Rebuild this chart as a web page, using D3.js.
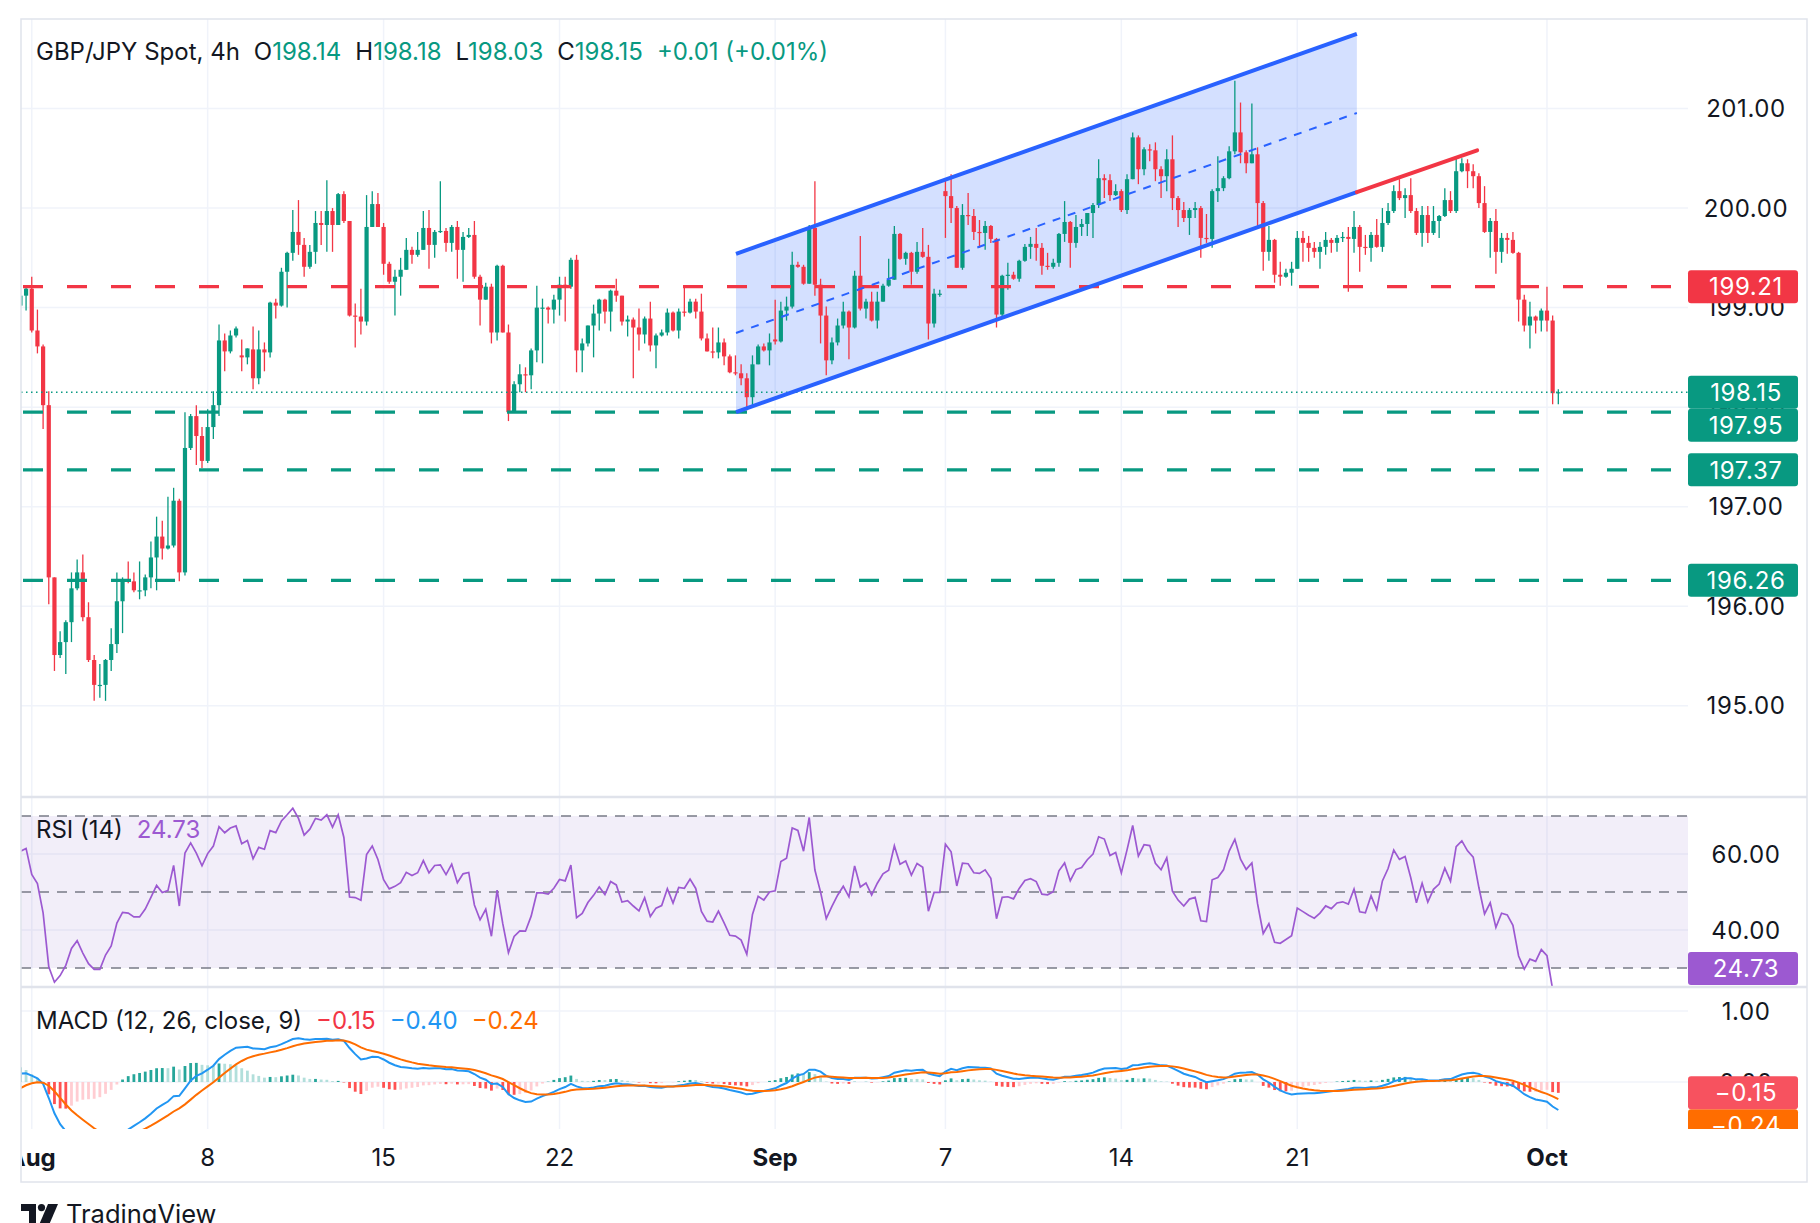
<!DOCTYPE html>
<html><head><meta charset="utf-8">
<script src="https://cdn.jsdelivr.net/npm/d3@7"></script>
<style>
html,body{margin:0;padding:0;background:#fff;}
svg{display:block;font-family:Inter,"Noto Sans",sans-serif;}
</style></head><body>
<svg id="chart" width="1820" height="1223"></svg>
<script>
// ---------- DATA (4h GBP/JPY candles, Jul 31 16:00 .. Oct 1 08:00) ----------
const opens = [199.02,199.12,199.19,198.77,198.61,198.02,196.29,195.51,195.64,195.84,
196.18,196.34,195.89,195.46,195.21,195.21,195.46,195.62,196.05,196.27,
196.25,196.16,196.16,196.29,196.49,196.70,196.58,196.61,197.06,196.34,
197.59,197.91,197.71,197.46,197.80,198.02,198.67,198.56,198.72,198.52,
198.50,198.58,198.29,198.58,198.55,199.05,199.02,199.36,199.55,199.76,
199.63,199.41,199.56,199.85,199.83,199.97,199.83,200.14,199.87,198.92,
198.91,198.86,199.81,200.04,199.81,199.44,199.26,199.31,199.38,199.58,
199.53,199.58,199.80,199.63,199.76,199.77,199.65,199.81,199.58,199.71,
199.73,199.31,199.08,199.21,198.75,199.42,198.75,197.95,198.23,198.33,
198.32,198.57,199.00,199.00,198.98,199.08,199.23,199.21,199.48,198.57,
198.64,198.82,198.94,199.08,198.96,199.17,199.12,198.86,198.88,198.80,
198.73,198.89,198.62,198.72,198.75,198.95,198.77,198.96,198.95,199.06,
198.96,198.69,198.56,198.55,198.65,198.51,198.35,198.34,198.29,198.10,
198.43,198.61,198.57,198.68,198.66,198.97,199.01,199.43,199.41,199.24,
199.80,199.23,198.92,198.47,198.65,198.82,198.96,198.80,199.32,198.99,
199.06,198.87,199.06,199.22,199.28,199.74,199.49,199.55,199.36,199.56,
199.51,198.84,199.14,200.17,200.12,200.00,199.40,199.93,199.92,199.76,
199.75,199.82,199.69,198.93,199.32,199.33,199.29,199.47,199.61,199.64,
199.60,199.42,199.41,199.45,199.74,199.86,199.65,199.81,199.84,199.95,
200.03,200.30,200.28,200.13,200.17,199.98,200.29,200.71,200.39,200.59,
200.58,200.39,200.32,200.49,200.10,199.98,199.90,199.98,200.00,199.70,
199.69,200.17,200.20,200.30,200.57,200.76,200.56,200.45,200.54,200.05,
199.56,199.68,199.33,199.31,199.35,199.39,199.70,199.65,199.60,199.56,
199.61,199.68,199.65,199.70,199.71,199.69,199.81,199.61,199.60,199.73,
199.61,199.85,199.97,200.17,200.10,200.13,199.97,199.75,199.93,199.75,
199.87,199.92,200.08,199.97,200.37,200.45,200.37,200.32,200.05,199.76,
199.87,199.56,199.70,199.68,199.55,199.08,198.82,198.91,198.87,198.97,
198.87,198.14];
const highs = [199.51,199.21,199.31,198.98,198.63,198.16,196.29,195.75,195.86,196.34,
196.47,196.52,196.04,195.51,195.42,195.47,195.78,196.34,196.29,196.45,
196.34,196.45,196.32,196.65,196.90,196.86,197.10,197.19,197.08,197.95,
197.93,198.02,197.80,197.98,198.16,198.83,198.74,198.77,198.81,198.68,
198.59,198.81,198.77,198.65,199.06,199.09,199.40,199.56,199.98,200.08,
199.70,199.63,199.97,199.97,200.28,200.00,200.15,200.17,199.87,199.04,
199.19,200.13,200.17,200.15,199.85,199.46,199.38,199.50,199.70,199.61,
199.76,199.97,199.98,199.78,200.27,199.80,199.83,199.87,199.76,199.80,
199.87,199.33,199.25,199.24,199.43,199.43,198.83,198.26,198.43,198.40,
198.59,199.22,199.09,199.01,199.13,199.31,199.31,199.50,199.53,198.69,
198.82,199.03,199.09,199.09,199.18,199.29,199.12,198.92,198.90,198.99,
198.91,199.06,198.74,198.78,198.99,198.96,198.99,199.21,199.09,199.09,
199.14,198.74,198.80,198.80,198.69,198.53,198.52,198.43,198.34,198.52,
198.63,198.64,198.74,199.08,199.06,199.11,199.56,199.46,199.43,199.83,
200.27,199.29,199.01,198.70,198.89,199.06,198.97,199.37,199.72,199.09,
199.16,199.16,199.24,199.49,199.82,199.75,199.56,199.56,199.66,199.80,
199.63,199.19,199.18,200.29,200.34,200.02,200.04,200.15,199.99,199.88,
199.87,199.83,199.70,199.33,199.45,199.36,199.48,199.64,199.71,199.80,
199.65,199.55,199.49,199.75,200.07,199.87,199.93,199.89,199.95,200.05,
200.49,200.34,200.34,200.24,200.19,200.34,200.76,200.73,200.61,200.64,
200.66,200.42,200.59,200.73,200.12,200.06,200.00,200.06,200.02,199.94,
200.19,200.52,200.32,200.62,201.28,201.06,200.58,201.05,200.61,200.07,
199.82,199.69,199.46,199.39,199.46,199.77,199.77,199.72,199.66,199.66,
199.76,199.70,199.73,199.76,199.81,199.97,199.83,199.73,199.76,199.89,
200.00,200.05,200.23,200.29,200.20,200.30,200.00,200.02,200.02,200.02,
199.93,200.20,200.17,200.50,200.50,200.49,200.44,200.35,200.22,199.90,
199.99,199.75,199.75,199.76,199.56,199.13,199.06,198.92,198.99,199.21,
198.92,198.18];
const lows = [198.85,198.97,198.75,198.54,197.78,196.02,195.35,195.48,195.32,195.64,
196.16,195.85,195.44,195.05,195.08,195.05,195.35,195.53,195.73,196.23,
196.14,196.07,196.10,196.18,196.16,196.47,196.57,196.59,196.25,196.31,
197.57,197.42,197.39,197.44,197.68,197.91,198.36,198.54,198.70,198.36,
198.43,198.18,198.23,198.36,198.50,198.89,199.01,199.00,199.47,199.53,
199.31,199.39,199.44,199.63,199.56,199.56,199.83,199.85,198.91,198.60,
198.73,198.82,199.81,199.81,199.33,199.24,198.92,199.12,199.38,199.44,
199.51,199.58,199.39,199.50,199.75,199.56,199.56,199.29,199.26,199.70,
199.29,198.82,199.08,198.64,198.67,198.75,197.86,197.95,198.15,198.15,
198.18,198.45,198.44,198.84,198.84,198.92,198.86,199.19,198.35,198.35,
198.61,198.50,198.77,198.84,198.76,199.06,198.82,198.71,198.29,198.57,
198.64,198.56,198.39,198.71,198.72,198.76,198.69,198.91,198.94,198.89,
198.67,198.56,198.49,198.49,198.42,198.34,198.32,198.22,197.97,198.00,
198.43,198.56,198.42,198.63,198.65,198.87,198.99,199.40,199.23,199.24,
199.12,198.64,198.32,198.43,198.62,198.79,198.48,198.79,198.97,198.89,
198.86,198.79,199.06,199.21,199.28,199.48,199.43,199.23,199.34,199.50,
198.68,198.80,199.11,199.70,199.85,199.40,199.38,199.83,199.68,199.60,
199.58,199.65,198.80,198.91,199.18,199.28,199.26,199.46,199.49,199.47,
199.33,199.38,199.39,199.41,199.66,199.40,199.60,199.72,199.72,199.70,
200.00,200.10,200.07,200.12,199.96,199.94,200.29,200.24,200.33,200.47,
200.27,200.10,200.17,199.98,199.81,199.86,199.73,199.90,199.50,199.65,
199.60,200.06,200.17,200.29,200.54,200.45,200.35,200.45,199.82,199.37,
199.47,199.25,199.22,199.30,199.22,199.39,199.46,199.46,199.50,199.39,
199.53,199.55,199.56,199.66,199.16,199.55,199.36,199.53,199.46,199.60,
199.56,199.83,199.95,200.08,199.90,199.95,199.73,199.61,199.65,199.73,
199.70,199.91,199.95,199.95,200.36,200.20,200.20,200.00,199.75,199.50,
199.34,199.45,199.54,199.54,198.86,198.76,198.59,198.74,198.76,198.76,
198.03,198.03];
const closes = [199.12,199.19,198.77,198.61,198.02,196.29,195.51,195.64,195.84,196.18,
196.34,195.89,195.46,195.21,195.21,195.46,195.62,196.05,196.27,196.25,
196.16,196.16,196.29,196.49,196.70,196.58,196.61,197.06,196.34,197.59,
197.91,197.71,197.46,197.80,198.02,198.67,198.56,198.72,198.79,198.50,
198.59,198.29,198.58,198.55,199.05,199.02,199.36,199.55,199.76,199.63,
199.41,199.56,199.85,199.83,199.97,199.83,200.14,199.87,198.92,198.91,
198.86,199.81,200.04,199.81,199.44,199.26,199.31,199.38,199.58,199.53,
199.58,199.80,199.63,199.76,199.77,199.65,199.81,199.58,199.71,199.73,
199.31,199.08,199.21,198.75,199.42,198.75,197.95,198.23,198.33,198.32,
198.57,199.00,199.00,198.98,199.08,199.23,199.21,199.48,198.57,198.64,
198.82,198.94,199.08,198.96,199.17,199.12,198.86,198.88,198.80,198.73,
198.89,198.62,198.72,198.75,198.95,198.77,198.96,198.95,199.06,198.96,
198.69,198.56,198.55,198.65,198.51,198.35,198.34,198.29,198.10,198.43,
198.61,198.57,198.65,198.66,198.97,199.01,199.43,199.41,199.24,199.80,
199.23,198.92,198.47,198.65,198.82,198.96,198.80,199.32,198.99,199.06,
198.87,199.06,199.22,199.28,199.74,199.49,199.55,199.36,199.56,199.51,
198.84,199.14,199.14,200.12,200.00,199.40,199.93,199.92,199.76,199.75,
199.82,199.69,198.93,199.32,199.33,199.29,199.47,199.61,199.64,199.60,
199.42,199.41,199.45,199.74,199.86,199.65,199.81,199.84,199.95,200.03,
200.30,200.28,200.13,200.17,199.98,200.29,200.71,200.39,200.59,200.58,
200.39,200.32,200.49,200.10,199.98,199.90,199.98,200.00,199.70,199.69,
200.17,200.20,200.30,200.57,200.76,200.56,200.45,200.54,200.05,199.56,
199.68,199.33,199.31,199.35,199.39,199.70,199.65,199.60,199.56,199.61,
199.68,199.65,199.70,199.71,199.69,199.81,199.61,199.60,199.73,199.61,
199.85,199.97,200.17,200.10,200.13,199.97,199.75,199.93,199.75,199.87,
199.92,200.08,199.97,200.37,200.45,200.37,200.32,200.05,199.76,199.87,
199.56,199.70,199.68,199.55,199.08,198.82,198.91,198.87,198.97,198.87,
198.14,198.15];

// time-axis labels (bar index of each labelled date)
const dateTickIndex = [2, 33, 64, 95, 133, 163, 194, 225, 269];
const dateTickLabel = ["Aug", "8", "15", "22", "Sep", "7", "14", "21", "Oct"];
const dateTickBold  = [true, false, false, false, true, false, false, false, true];

const priceTicks = [195, 196, 197, 198, 199, 200, 201];
const priceTickLabels = ["195.00","196.00","197.00","198.00","199.00","200.00","201.00"];

// horizontal support / resistance levels
const levelValues = [199.21, 197.95, 197.37, 196.26];
const levelKinds  = ["res", "sup", "sup", "sup"];
const lastPrice = 198.15;

// rising channel (bar index, price) and the red trend line
const channelIdx   = [126.1, 235.5];
const channelLower = [197.95, 200.16];
const channelUpper = [199.54, 201.75];
const wedgeIdx   = [235.5, 256.7];
const wedgePrice = [200.16, 200.58];

const rsiPeriod = 14;
const rsiSeedGain = 0.17, rsiSeedLoss = 0.115;
const macdFast = 12, macdSlow = 26, macdSig = 9;
const macdSeedFast = 199.02, macdSeedSlow = 198.90, macdSeedSignal = -0.14;
const rsiTicks = [60, 40], rsiTickLabels = ["60.00", "40.00"];
const rsiBands = [70, 50, 30];
const macdTicks = [1, 0], macdTickLabels = ["1.00", "0.00"];

// legend texts
const header = {sym: "GBP/JPY Spot, 4h", o: "198.14", h: "198.18", l: "198.03", c: "198.15", chg: "+0.01 (+0.01%)"};
const rsiLegendValue = "24.73", rsiValue = 24.73;
const macdLegend = ["\u22120.15", "\u22120.40", "\u22120.24"];
const macdValues = [-0.15, -0.40, -0.24];

// ---------- LAYOUT ----------
const N = closes.length;
const L = 21, PR = 1688, AR = 1807, T = 19, PB = 797, RB = 987, MB = 1129, XB = 1182;
const UP = "#089981", DN = "#F23645", BLUE = "#2962FF", TXT = "#131722";
const GRID = "#F0F3FA", BORDER = "#E0E3EB";
const RSI_C = "#9C59D1", MACD_C = "#2196F3", SIG_C = "#FF6D00";
const FS = 24;

const x  = d3.scaleLinear().domain([0, 1]).range([20.4, 26.075]);
const yP = d3.scaleLinear().domain([195, 201]).range([705.8, 108.5]);
const yR = d3.scaleLinear().domain([30, 70]).range([968, 816]);
const yM = d3.scaleLinear().domain([0, 1]).range([1082, 1011]);

const svg = d3.select("#chart");
svg.append("rect").attr("width", 1820).attr("height", 1223).attr("fill", "#fff");
const defs = svg.append("defs");
function clip(id, x0, y0, w, h) {
  defs.append("clipPath").attr("id", id).append("rect").attr("x", x0).attr("y", y0).attr("width", w).attr("height", h);
  return "url(#" + id + ")";
}
const cPrice = clip("cp", L, T, PR - L, PB - T);
const cRsi = clip("cr", L, PB, PR - L, RB - PB);
const cMacd = clip("cm", L, RB, PR - L, MB - RB);
const cMacdAx = clip("cma", PR, RB, AR - PR, MB - RB);
const cX = clip("cx", L + 1, MB, AR - L, XB - MB);

// ---------- GRID ----------
const grid = svg.append("g");
grid.selectAll("line.hp").data(priceTicks).join("line")
  .attr("x1", L).attr("x2", PR).attr("y1", d => yP(d)).attr("y2", d => yP(d))
  .attr("stroke", GRID).attr("stroke-width", 1.5);
grid.selectAll("line.vt").data(dateTickIndex).join("line")
  .attr("x1", d => x(d)).attr("x2", d => x(d)).attr("y1", T).attr("y2", MB)
  .attr("stroke", GRID).attr("stroke-width", 1.5);
grid.selectAll("line.rt").data(rsiTicks).join("line")
  .attr("x1", L).attr("x2", PR).attr("y1", d => yR(d)).attr("y2", d => yR(d))
  .attr("stroke", GRID).attr("stroke-width", 1.5);
grid.selectAll("line.mt").data(macdTicks).join("line")
  .attr("x1", L).attr("x2", PR).attr("y1", d => yM(d)).attr("y2", d => yM(d))
  .attr("stroke", GRID).attr("stroke-width", 1.5);

// ---------- PRICE PANE ----------
const gp = svg.append("g").attr("clip-path", cPrice);
const chanPoly = [[channelIdx[0], channelLower[0]], [channelIdx[1], channelLower[1]],
                  [channelIdx[1], channelUpper[1]], [channelIdx[0], channelUpper[0]]];
gp.append("path")
  .attr("d", "M" + chanPoly.map(p => x(p[0]) + "," + yP(p[1])).join("L") + "Z")
  .attr("fill", "rgba(41,98,255,0.2)");

const isUp = i => closes[i] >= opens[i];
const cg = gp.append("g");
cg.selectAll("line").data(d3.range(N)).join("line")
  .attr("x1", i => x(i)).attr("x2", i => x(i))
  .attr("y1", i => yP(highs[i])).attr("y2", i => yP(lows[i]))
  .attr("stroke", i => isUp(i) ? UP : DN).attr("stroke-width", 1.3);
cg.selectAll("rect").data(d3.range(N)).join("rect")
  .attr("x", i => x(i) - 2.1).attr("width", 4.2)
  .attr("y", i => yP(Math.max(opens[i], closes[i])))
  .attr("height", i => Math.max(1.2, Math.abs(yP(opens[i]) - yP(closes[i]))))
  .attr("fill", i => isUp(i) ? UP : DN);

// current price dotted line
gp.append("line").attr("x1", L).attr("x2", PR).attr("y1", yP(lastPrice)).attr("y2", yP(lastPrice))
  .attr("stroke", UP).attr("stroke-width", 1.5).attr("stroke-dasharray", "1.5,3.5");

// level lines
gp.selectAll("line.lv").data(levelValues).join("line")
  .attr("x1", L).attr("x2", PR).attr("y1", d => yP(d)).attr("y2", d => yP(d))
  .attr("stroke", (d, k) => levelKinds[k] === "res" ? DN : UP)
  .attr("stroke-width", 3.2).attr("stroke-dasharray", "20,24").attr("stroke-dashoffset", -2);

// channel lines
const lineP = d3.line().x(d => x(d[0])).y(d => yP(d[1]));
gp.append("path").attr("d", lineP([[channelIdx[0], channelLower[0]], [channelIdx[1], channelLower[1]]]))
  .attr("stroke", BLUE).attr("stroke-width", 4).attr("fill", "none");
gp.append("path").attr("d", lineP([[channelIdx[0], channelUpper[0]], [channelIdx[1], channelUpper[1]]]))
  .attr("stroke", BLUE).attr("stroke-width", 4).attr("fill", "none");
gp.append("path").attr("d", lineP([[channelIdx[0], (channelLower[0] + channelUpper[0]) / 2], [channelIdx[1], (channelLower[1] + channelUpper[1]) / 2]]))
  .attr("stroke", BLUE).attr("stroke-width", 2).attr("stroke-dasharray", "8,8").attr("fill", "none");
gp.append("path").attr("d", lineP([[wedgeIdx[0], wedgePrice[0]], [wedgeIdx[1], wedgePrice[1]]]))
  .attr("stroke", DN).attr("stroke-width", 4).attr("fill", "none").attr("stroke-linecap", "round");

// ---------- INDICATORS (derived from closes) ----------
const rsi = [];
let ag = rsiSeedGain, al = rsiSeedLoss;
for (let i = 0; i < N; i++) {
  const prev = i === 0 ? opens[0] : closes[i - 1];
  const ch = closes[i] - prev;
  ag = (ag * (rsiPeriod - 1) + Math.max(ch, 0)) / rsiPeriod;
  al = (al * (rsiPeriod - 1) + Math.max(-ch, 0)) / rsiPeriod;
  rsi.push(100 - 100 / (1 + ag / al));
}
const macd = [], sig = [], hist = [];
let ef = macdSeedFast, es = macdSeedSlow, sg = macdSeedSignal;
for (let i = 0; i < N; i++) {
  ef += (closes[i] - ef) * 2 / (macdFast + 1);
  es += (closes[i] - es) * 2 / (macdSlow + 1);
  const m = ef - es;
  sg += (m - sg) * 2 / (macdSig + 1);
  macd.push(m); sig.push(sg); hist.push(m - sg);
}

// ---------- RSI PANE ----------
const gr = svg.append("g").attr("clip-path", cRsi);
gr.append("rect").attr("x", L).attr("width", PR - L).attr("y", yR(70)).attr("height", yR(30) - yR(70))
  .attr("fill", "rgba(126,87,194,0.1)");
gr.selectAll("line.rb").data(rsiBands).join("line")
  .attr("x1", L).attr("x2", PR).attr("y1", d => yR(d)).attr("y2", d => yR(d))
  .attr("stroke", "#787B86").attr("stroke-width", 1.5).attr("stroke-dasharray", "10,8");
gr.append("path").datum(rsi)
  .attr("d", d3.line().x((d, i) => x(i)).y(d => yR(d)))
  .attr("fill", "none").attr("stroke", RSI_C).attr("stroke-width", 1.7);

// ---------- MACD PANE ----------
const gm = svg.append("g").attr("clip-path", cMacd);
gm.selectAll("rect").data(hist).join("rect")
  .attr("x", (d, i) => x(i) - 1.4).attr("width", 2.8)
  .attr("y", d => Math.min(yM(0), yM(d)))
  .attr("height", d => Math.abs(yM(d) - yM(0)))
  .attr("fill", (d, i) => {
    const p = i === 0 ? d : hist[i - 1];
    if (d >= 0) return d >= p ? "#26A69A" : "#B2DFDB";
    return d <= p ? "#FF5252" : "#FFCDD2";
  });
gm.append("path").datum(macd).attr("d", d3.line().x((d, i) => x(i)).y(d => yM(d)))
  .attr("fill", "none").attr("stroke", MACD_C).attr("stroke-width", 2);
gm.append("path").datum(sig).attr("d", d3.line().x((d, i) => x(i)).y(d => yM(d)))
  .attr("fill", "none").attr("stroke", SIG_C).attr("stroke-width", 2);

// ---------- FRAME ----------
const fr = svg.append("g");
fr.append("rect").attr("x", L).attr("y", T).attr("width", AR - L).attr("height", XB - T)
  .attr("fill", "none").attr("stroke", BORDER).attr("stroke-width", 1.5);
[PB, RB].forEach(yy => fr.append("line").attr("x1", L).attr("x2", AR).attr("y1", yy).attr("y2", yy)
  .attr("stroke", BORDER).attr("stroke-width", 2.5));

// ---------- PRICE AXIS ----------
const AXC = 1746, BOXW = 110, BOXH = 33;
const ax = svg.append("g").attr("font-size", FS).attr("text-anchor", "middle").attr("letter-spacing", 0.6);
ax.selectAll("text.pt").data(priceTicks).join("text")
  .attr("x", AXC).attr("y", d => yP(d) + FS * 0.36).attr("fill", TXT)
  .text((d, k) => priceTickLabels[k]);

// label boxes: current price + levels, stacked to avoid overlap
const boxes = [{v: lastPrice, col: UP}].concat(levelValues.map((v, k) => ({v, col: levelKinds[k] === "res" ? DN : UP})));
boxes.sort((a, b) => b.v - a.v);
let lastBottom = -1e9;
boxes.forEach(b => {
  let cy = yP(b.v);
  if (cy - BOXH / 2 < lastBottom) cy = lastBottom + BOXH / 2;
  b.cy = cy; lastBottom = cy + BOXH / 2;
});
const bx = ax.selectAll("g.bx").data(boxes).join("g");
bx.append("rect").attr("x", PR).attr("width", BOXW).attr("y", d => d.cy - BOXH / 2).attr("height", BOXH)
  .attr("rx", 3).attr("fill", d => d.col);
bx.append("text").attr("x", AXC).attr("y", d => d.cy + FS * 0.36).attr("fill", "#fff")
  .text(d => d.v.toFixed(2));

// RSI axis
ax.selectAll("text.rt").data(rsiTicks).join("text")
  .attr("x", AXC).attr("y", d => yR(d) + FS * 0.36).attr("fill", TXT).text((d, k) => rsiTickLabels[k]);
const rcy = Math.min(yR(rsiValue), RB - BOXH / 2 - 2);
ax.append("rect").attr("x", PR).attr("width", BOXW).attr("y", rcy - BOXH / 2).attr("height", BOXH).attr("rx", 3).attr("fill", RSI_C);
ax.append("text").attr("x", AXC).attr("y", rcy + FS * 0.36).attr("fill", "#fff").text(rsiLegendValue);

// MACD axis
const mx = ax.append("g").attr("clip-path", cMacdAx);
mx.selectAll("text.mt").data(macdTicks).join("text")
  .attr("x", AXC).attr("y", d => yM(d) + FS * 0.36).attr("fill", TXT).text((d, k) => macdTickLabels[k]);
const mboxes = [{v: macdValues[2], col: SIG_C, t: macdLegend[2]}, {v: macdValues[1], col: MACD_C, t: macdLegend[1]}, {v: macdValues[0], col: "#F7525F", t: macdLegend[0]}];
mboxes.sort((a, b) => b.v - a.v);
lastBottom = -1e9;
mboxes.forEach(b => { let cy = yM(b.v); if (cy - BOXH / 2 < lastBottom) cy = lastBottom + BOXH / 2; b.cy = cy; lastBottom = cy + BOXH / 2; });
const mb = mx.selectAll("g.mb").data(mboxes.slice().reverse()).join("g");
mb.append("rect").attr("x", PR).attr("width", BOXW).attr("y", d => d.cy - BOXH / 2).attr("height", BOXH).attr("rx", 3).attr("fill", d => d.col);
mb.append("text").attr("x", AXC).attr("y", d => d.cy + FS * 0.36).attr("fill", "#fff").text(d => d.t);

// ---------- TIME AXIS ----------
const xg = svg.append("g").attr("clip-path", cX).attr("font-size", FS).attr("text-anchor", "middle").attr("fill", TXT);
xg.selectAll("text").data(dateTickIndex).join("text")
  .attr("x", d => x(d)).attr("y", 1157 + FS * 0.36)
  .attr("font-weight", (d, k) => dateTickBold[k] ? 700 : 400)
  .text((d, k) => dateTickLabel[k]);

// ---------- LEGENDS ----------
const lg = svg.append("g").attr("font-size", FS);
const h1 = lg.append("text").attr("x", 36).attr("y", 51 + FS * 0.36).attr("fill", TXT);
h1.append("tspan").text(header.sym);
[["O", header.o], ["H", header.h], ["L", header.l], ["C", header.c]].forEach(p => {
  h1.append("tspan").attr("dx", 14).text(p[0]);
  h1.append("tspan").attr("fill", UP).text(p[1]);
});
h1.append("tspan").attr("dx", 14).attr("fill", UP).text(header.chg);

const h2 = lg.append("text").attr("x", 36).attr("y", 829.5 + FS * 0.36).attr("fill", TXT);
h2.append("tspan").text("RSI (14)");
h2.append("tspan").attr("dx", 14).attr("fill", RSI_C).text(rsiLegendValue);

const h3 = lg.append("text").attr("x", 36).attr("y", 1020 + FS * 0.36).attr("fill", TXT);
h3.append("tspan").text("MACD (12, 26, close, 9)");
h3.append("tspan").attr("dx", 14).attr("fill", DN).text(macdLegend[0]);
h3.append("tspan").attr("dx", 14).attr("fill", MACD_C).text(macdLegend[1]);
h3.append("tspan").attr("dx", 14).attr("fill", SIG_C).text(macdLegend[2]);

// ---------- LOGO ----------
const logo = svg.append("g").attr("transform", "translate(21,1204)").attr("fill", TXT);
logo.append("path").attr("d", "M0 0H15V21H8V7H0Z");
logo.append("circle").attr("cx", 20.5).attr("cy", 3.6).attr("r", 3.6);
logo.append("path").attr("d", "M27 0H37L28 21H18Z");
svg.append("text").attr("x", 66).attr("y", 1223).attr("font-size", 25.5).attr("fill", TXT).text("TradingView");
</script>
</body></html>
